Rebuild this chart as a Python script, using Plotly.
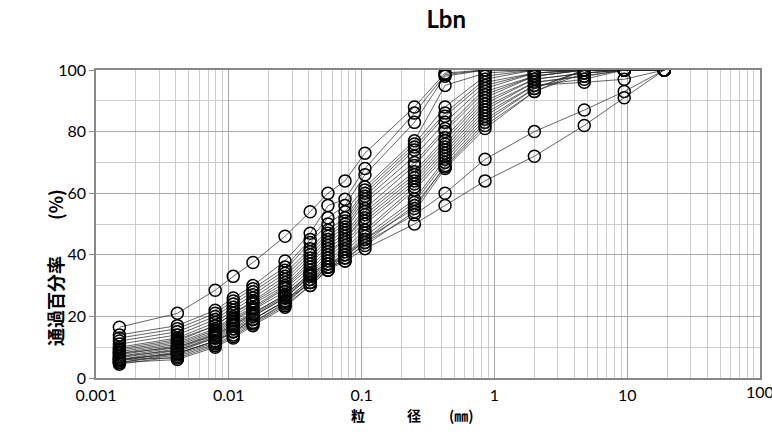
import plotly.graph_objects as go

# Sieve / hydrometer diameters (mm)
diameters = [19, 9.5, 4.75, 2, 0.85, 0.425, 0.25, 0.106, 0.075, 0.0558, 0.041,
             0.0265, 0.0152, 0.0108, 0.0079, 0.0041, 0.0015]

# Percent passing for each sample (same order as diameters)
s01 = [100, 100, 100, 100, 100, 99, 88, 73, 64, 60, 54, 46, 37.5, 33, 28.5, 21, 16.5]
s02 = [100, 100, 100, 100, 100, 98.5, 86, 68, 58, 56, 47, 38, 30, 26, 22, 17, 14]
s03 = [100, 100, 100, 100, 100, 98, 83, 66, 56, 52, 45, 36, 29, 25, 21, 16, 13]
s04 = [100, 100, 100, 100, 99, 95, 77, 62, 54, 50, 44, 35, 28, 24, 20, 15, 12]
s05 = [100, 100, 100, 100, 98, 88, 76, 61, 52, 48, 42, 34, 27, 23, 19, 14, 11]
s06 = [100, 100, 100, 100, 97, 86, 75, 60, 51, 47, 41, 33, 26, 22, 18, 13, 10]
s07 = [100, 100, 100, 99, 96, 85, 74, 59, 50, 46, 40, 32, 25, 21, 17, 12.5, 9.5]
s08 = [100, 100, 100, 99, 95, 83, 72, 58, 49, 45, 39, 31, 24.5, 21, 17, 12, 9]
s09 = [100, 100, 100, 99, 94, 81, 70, 57, 48, 44, 38, 30, 24, 20, 16, 11.5, 8.5]
s10 = [100, 100, 100, 98, 93, 80, 69, 55, 47, 43, 37, 29.5, 23, 19.5, 15.5, 11, 8]
s11 = [100, 100, 100, 98, 92, 78, 67, 54, 46, 42, 36, 29, 22.5, 19, 15, 10.5, 7.5]
s12 = [100, 100, 100, 98, 91, 77, 66, 53, 45, 41, 35, 28, 22, 18.5, 14.5, 10, 7]
s13 = [100, 100, 99, 97, 90, 76, 65, 52, 45, 40, 34, 27, 21, 18, 14, 9.5, 6.5]
s14 = [100, 100, 99, 97, 89, 75, 64, 51, 44, 39, 33.5, 26.5, 20.5, 17.5, 13.5, 9, 6]
s15 = [100, 100, 98, 96, 88, 74, 63, 50, 43, 38, 33, 26, 20, 17, 13, 8.5, 5.5]
s16 = [100, 100, 98, 96, 87, 73, 62, 48, 42, 37, 32, 25, 19, 16, 12, 8, 5]
s17 = [100, 100, 97, 95, 86, 72, 61, 47, 41, 36, 31, 24.5, 18, 15, 11.5, 7.5, 5]
s18 = [100, 97, 96, 95, 85, 71, 58, 46, 40, 36, 31, 24, 18, 14, 11, 7, 4.5]
s19 = [100, 100, 100, 94, 84, 70, 57, 45, 40, 35, 30, 23.5, 17.5, 13.5, 10.5, 6.5, 6]
s20 = [100, 100, 100, 94, 83, 69, 55, 45, 39, 35, 30, 23, 17, 13, 10, 6, 5]
s21 = [100, 100, 100, 93, 82, 68.5, 56, 44, 38, 36, 32, 25, 19, 15, 12, 8, 6]
s22 = [100, 100, 99, 93, 81, 68, 54, 43, 39, 37, 33, 26, 20, 16, 13, 9, 7]
s23 = [100, 93, 87, 80, 71, 60, 53, 44, 40, 37, 34, 27, 21, 17, 14, 10, 8]
s24 = [100, 91, 82, 72, 64, 56, 50, 42, 38, 35, 31, 25, 19, 15, 12, 8, 6]

samples = [s01, s02, s03, s04, s05, s06, s07, s08, s09, s10, s11, s12,
           s13, s14, s15, s16, s17, s18, s19, s20, s21, s22, s23, s24]

x_tick_vals = [0.001, 0.01, 0.1, 1, 10]
x_tick_text = ["0.001", "0.01", "0.1", "1", "10"]
x_last_tick = 100
y_tick_vals = [0, 20, 40, 60, 80, 100]

fig = go.Figure()
for s in samples:
    fig.add_trace(go.Scatter(
        x=diameters, y=s, mode="lines+markers",
        line=dict(color="#222222", width=0.7),
        marker=dict(symbol="circle-open", size=12, color="black",
                    line=dict(width=1.5, color="black")),
        showlegend=False, hoverinfo="skip"))

# last x tick label (runs past the right edge, as in the reference)
fig.add_annotation(x=2, xref="x", y=0, yref="paper", text=str(x_last_tick),
                   showarrow=False, yanchor="top", yshift=-2,
                   font=dict(family="Lato", size=16, color="black"))
# axis titles
fig.add_annotation(x=0.477, xref="paper", y=0, yref="paper",
                   text="<b>粒　　　径　　(㎜)</b>", showarrow=False,
                   yanchor="middle", yshift=-37,
                   font=dict(family="Noto Sans CJK JP", size=14, color="black"))
fig.add_annotation(x=-0.0617, xref="paper", y=0.357, yref="paper",
                   text="<b>通過百分率　　(%)</b>", showarrow=False, textangle=-90,
                   xanchor="center", yanchor="middle",
                   font=dict(family="Noto Sans CJK JP", size=18, color="black"))

fig.update_layout(
    width=772, height=442,
    margin=dict(l=96, r=12, t=70, b=64),
    paper_bgcolor="white", plot_bgcolor="white",
    title=dict(text="<b>Lbn</b>", x=0.578, xanchor="center", y=0.975, yanchor="top",
               font=dict(family="Lato", size=24, color="black")),
    font=dict(family="Lato", size=15, color="black"),
)

fig.update_xaxes(
    type="log", range=[-3, 2], automargin=False,
    tickvals=x_tick_vals, ticktext=x_tick_text,
    showgrid=True, gridcolor="#a8a8a8", gridwidth=1.2,
    minor=dict(dtick="D1", showgrid=True, gridcolor="#cccccc", gridwidth=1, ticks=""),
    showline=True, linecolor="#888888", linewidth=1.5, mirror=True,
    ticks="", ticklabelstandoff=2, tickfont=dict(family="Lato", size=16),
    zeroline=False,
)

fig.update_yaxes(
    range=[0, 100], tickvals=y_tick_vals, automargin=False,
    showgrid=True, gridcolor="#a8a8a8", gridwidth=1.2,
    minor=dict(dtick=10, showgrid=True, gridcolor="#cccccc", gridwidth=1),
    showline=True, linecolor="#888888", linewidth=1.5, mirror=True,
    ticks="outside", ticklen=5, tickcolor="#888888",
    tickfont=dict(family="Lato", size=16),
    zeroline=False,
)

fig.write_html("out.html")
